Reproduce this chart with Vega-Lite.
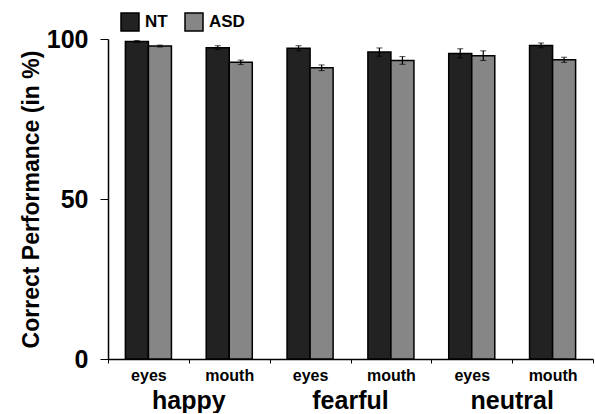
{
  "$schema": "https://vega.github.io/schema/vega-lite/v6.json",
  "width": 485,
  "height": 320,
  "padding": {"left": 20, "top": 12, "right": 0, "bottom": 0},
  "background": "white",
  "config": {
    "view": {"stroke": null},
    "font": "Liberation Sans",
    "axis": {"domainColor": "black", "tickColor": "black", "labelColor": "black", "titleColor": "black", "grid": false, "labelFontWeight": "bold", "titleFontWeight": "bold"}
  },
  "layer": [
    {
      "data": {"values": [
        {"cond": "happy-eyes", "group": "NT", "value": 99.2, "err": 0.3},
        {"cond": "happy-eyes", "group": "ASD", "value": 97.8, "err": 0.3},
        {"cond": "happy-mouth", "group": "NT", "value": 97.3, "err": 0.6},
        {"cond": "happy-mouth", "group": "ASD", "value": 92.7, "err": 0.7},
        {"cond": "fearful-eyes", "group": "NT", "value": 97.1, "err": 0.8},
        {"cond": "fearful-eyes", "group": "ASD", "value": 91.0, "err": 0.9},
        {"cond": "fearful-mouth", "group": "NT", "value": 95.9, "err": 1.3},
        {"cond": "fearful-mouth", "group": "ASD", "value": 93.3, "err": 1.2},
        {"cond": "neutral-eyes", "group": "NT", "value": 95.5, "err": 1.45},
        {"cond": "neutral-eyes", "group": "ASD", "value": 94.8, "err": 1.5},
        {"cond": "neutral-mouth", "group": "NT", "value": 98.0, "err": 0.75},
        {"cond": "neutral-mouth", "group": "ASD", "value": 93.5, "err": 0.8}
      ]},
      "encoding": {
        "x": {
          "field": "cond", "type": "nominal", "sort": null,
          "scale": {"paddingInner": 0, "paddingOuter": 0},
          "axis": {"title": null, "labelAngle": 0, "tickBand": "extent", "tickSize": 4, "labelFontSize": 16, "labelPadding": 4,
                   "labelExpr": "split(datum.label, '-')[1]", "domainWidth": 1.5}
        },
        "xOffset": {"field": "group", "type": "nominal", "sort": ["NT", "ASD"], "scale": {"paddingInner": 0, "paddingOuter": 0.755}},
        "y": {
          "field": "value", "type": "quantitative",
          "scale": {"domain": [0, 100], "nice": false},
          "axis": {"values": [0, 50, 100], "title": "Correct Performance (in %)", "titleFontSize": 23, "labelFontSize": 25, "tickSize": 8, "labelPadding": 12, "titlePadding": 3, "domainWidth": 1.5}
        }
      },
      "layer": [
        {
          "mark": {"type": "bar", "stroke": "black", "strokeWidth": 1.5},
          "encoding": {
            "color": {"field": "group", "type": "nominal", "sort": ["NT", "ASD"],
              "scale": {"domain": ["NT", "ASD"], "range": ["#222222", "#868686"]},
              "legend": {"title": null, "orient": "none", "direction": "horizontal", "legendX": 12, "legendY": -27,
                "symbolType": "square", "symbolSize": 324, "symbolStrokeColor": "black", "symbolStrokeWidth": 1.5, "symbolOpacity": 1,
                "labelFontSize": 17, "labelFontWeight": "bold", "labelColor": "black", "columnPadding": 14, "labelOffset": 5}
            }
          }
        },
        {
          "mark": {"type": "errorbar", "ticks": {"size": 6, "color": "black", "strokeWidth": 1.2}, "rule": {"color": "black", "strokeWidth": 1.2}},
          "encoding": {"yError": {"field": "err"}}
        }
      ]
    },
    {
      "data": {"values": [{"emotion": "happy"}, {"emotion": "fearful"}, {"emotion": "neutral"}]},
      "mark": {"type": "rule", "opacity": 0},
      "encoding": {
        "x": {"field": "emotion", "type": "nominal", "sort": null, "scale": {"paddingInner": 0, "paddingOuter": 0},
          "axis": {"title": null, "orient": "bottom", "offset": 29, "domain": false, "ticks": false, "labelAngle": 0, "labelFontSize": 25, "labelPadding": 0}}
      }
    }
  ],
  "resolve": {"scale": {"x": "independent"}, "axis": {"x": "independent"}}
}
